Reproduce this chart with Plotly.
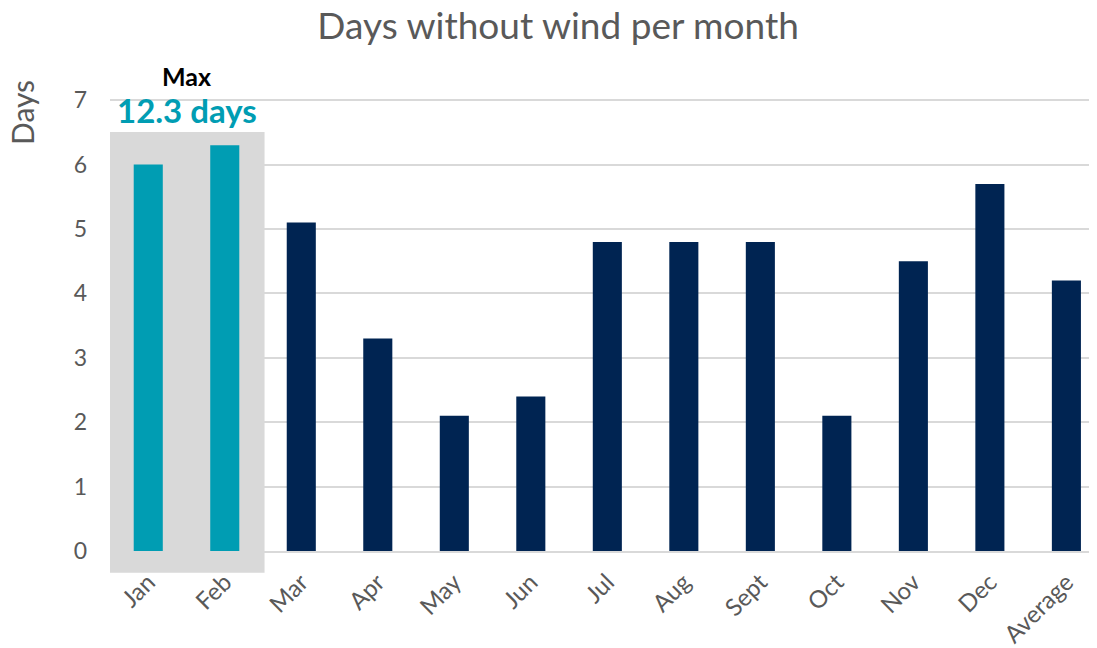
"""Days without wind per month - bar chart with highlighted max months."""

import plotly.graph_objects as go

MONTHS = ["Jan", "Feb", "Mar", "Apr", "May", "Jun", "Jul", "Aug", "Sept",
          "Oct", "Nov", "Dec", "Average"]
DAYS = [6.0, 6.3, 5.1, 3.3, 2.1, 2.4, 4.8, 4.8, 4.8, 2.1, 4.5, 5.7, 4.2]
HIGHLIGHT = ["Jan", "Feb"]
MAX_LABEL = "Max"
MAX_VALUE_TEXT = "12.3 days"

TEAL = "#009DB3"
NAVY = "#002452"
GREY_TXT = "#595959"
FONT = "Lato, 'Open Sans', sans-serif"

colors = [TEAL if m in HIGHLIGHT else NAVY for m in MONTHS]

fig = go.Figure(
    go.Bar(
        x=MONTHS,
        y=DAYS,
        marker=dict(color=colors, line=dict(width=0)),
        width=0.38,
        hoverinfo="x+y",
    )
)

# grey band behind the highlighted months (plot is 454px tall, bottom at 543)
fig.add_shape(
    type="rect",
    xref="x",
    yref="paper",
    x0=-0.5,
    x1=1.52,
    y0=-0.048,
    y1=0.923,
    fillcolor="#D9D9D9",
    line=dict(width=0),
    layer="below",
)

fig.add_annotation(
    x=0.5, xref="x", y=1.047, yref="paper", text=f"<b>{MAX_LABEL}</b>",
    showarrow=False, font=dict(size=25, color="#000000", family=FONT),
    yanchor="middle",
)
fig.add_annotation(
    x=0.5, xref="x", y=0.971, yref="paper", text=f"<b>{MAX_VALUE_TEXT}</b>",
    showarrow=False, font=dict(size=33, color=TEAL, family=FONT),
    yanchor="middle",
)
fig.add_annotation(
    x=-0.089, xref="paper", y=0.965, yref="paper", text="Days",
    showarrow=False, textangle=-90, font=dict(size=30, color=GREY_TXT, family=FONT),
    yanchor="middle", xanchor="center",
)

fig.update_layout(
    title=dict(
        text="Days without wind per month",
        x=0.454, xref="paper", xanchor="center",
        y=0.972, yref="container", yanchor="middle",
        font=dict(size=37, color=GREY_TXT, family=FONT),
    ),
    width=1097,
    height=648,
    margin=dict(l=102, r=8, t=89, b=105),
    plot_bgcolor="white",
    paper_bgcolor="white",
    showlegend=False,
    font=dict(family=FONT, color=GREY_TXT),
)

fig.update_xaxes(
    range=[-0.5, 12.4],
    tickangle=-45,
    tickfont=dict(size=24, color=GREY_TXT, family=FONT),
    showgrid=False,
    showline=True,
    linecolor="#D9D9D9",
    linewidth=1.5,
    ticks="",
    ticklabelstandoff=6,
    automargin=False,
)
fig.update_yaxes(
    range=[0, 7.05],
    dtick=1,
    tickfont=dict(size=23, color=GREY_TXT, family=FONT),
    showgrid=True,
    gridcolor="#D9D9D9",
    gridwidth=1.5,
    zeroline=False,
    ticks="",
    ticklabelstandoff=22,
    automargin=False,
)

fig.write_html("out.html")
